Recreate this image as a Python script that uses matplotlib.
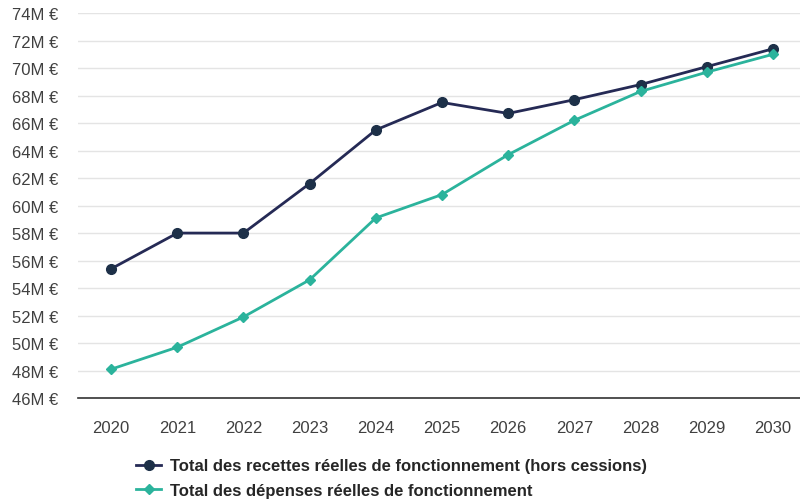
import matplotlib
matplotlib.use('Agg')
import matplotlib.pyplot as plt
from matplotlib.ticker import FuncFormatter

plt.rcParams['font.family'] = ['Liberation Sans', 'DejaVu Sans']

# donnees (M EUR)
years = [2020, 2021, 2022, 2023, 2024, 2025, 2026, 2027, 2028, 2029, 2030]
recettes = [55.4, 58.0, 58.0, 61.6, 65.5, 67.5, 66.7, 67.7, 68.8, 70.1, 71.4]
depenses = [48.1, 49.7, 51.9, 54.6, 59.1, 60.8, 63.7, 66.2, 68.3, 69.7, 71.0]

label_rec = 'Total des recettes réelles de fonctionnement (hors cessions)'
label_dep = 'Total des dépenses réelles de fonctionnement'

col_rec = '#252a55'
col_rec_mk = '#1d3048'
col_dep = '#2bb39c'

fig = plt.figure(figsize=(8, 5.02), dpi=100)
ax = fig.add_axes([0.0975, 0.205, 0.91, 0.767])

ax.plot(years, recettes, color=col_rec, lw=2, marker='o', ms=7,
        mfc=col_rec_mk, mec=col_rec_mk, label=label_rec, zorder=3)
ax.plot(years, depenses, color=col_dep, lw=2, marker='D', ms=5.5,
        mfc=col_dep, mec=col_dep, label=label_dep, zorder=3)

ax.set_xlim(2019.5, 2030.5)
ax.set_ylim(46, 74)
ax.set_xticks(years)
ax.set_yticks(range(46, 75, 2))
ax.yaxis.set_major_formatter(FuncFormatter(lambda v, p: '%dM €' % v))

ax.grid(axis='y', color='#e4e4e4', lw=1)
ax.set_axisbelow(True)
for s in ['top', 'right', 'left']:
    ax.spines[s].set_visible(False)
ax.spines['bottom'].set_color('#333333')
ax.spines['bottom'].set_linewidth(1.2)
ax.tick_params(axis='both', length=0, labelsize=12, labelcolor='#404040')
ax.tick_params(axis='x', pad=16)
ax.tick_params(axis='y', pad=14)

leg = fig.legend(loc='upper left', bbox_to_anchor=(0.162, 0.098), frameon=False,
                 prop={'weight': 'bold', 'size': 12}, handlelength=1.5,
                 handletextpad=0.5, labelspacing=0.55, borderaxespad=0)
for t in leg.get_texts():
    t.set_color('#262626')

fig.savefig('out.png', dpi=100)
